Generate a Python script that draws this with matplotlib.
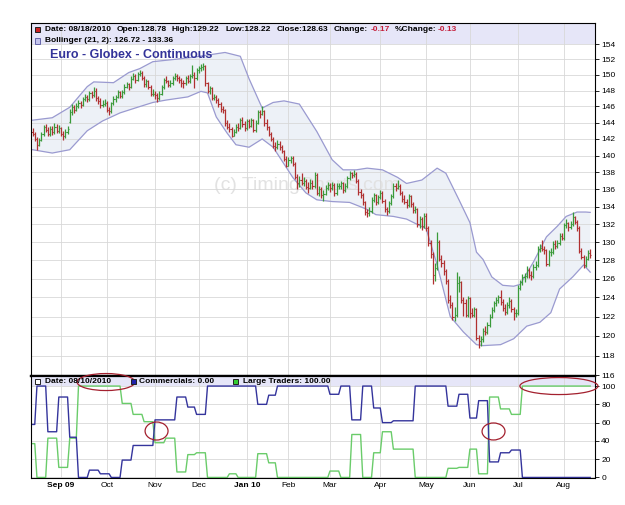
import numpy as np
import pandas as pd
import matplotlib
import matplotlib.pyplot as plt
from matplotlib.patches import Ellipse, Rectangle
from matplotlib.ticker import NullLocator

matplotlib.use("Agg")

# ---- data -------------------------------------------------------------
holidays = ["2009-09-07", "2009-11-26", "2009-12-25", "2010-01-01", "2010-01-18",
            "2010-02-15", "2010-04-02", "2010-05-31", "2010-07-05"]
dates = pd.bdate_range("2009-08-13", "2010-08-18")
dates = dates[~dates.isin(pd.to_datetime(holidays))]

opens = [
    142.9, 142.6, 142.0, 141.3, 141.9, 142.6, 143.4, 143.1, 142.6, 143.2, 142.8, 143.5, 143.0,
    143.3, 142.6, 142.3, 142.9, 144.1, 145.3, 145.9, 145.6, 146.0, 146.4, 146.2, 146.9, 147.2,
    146.9, 147.7, 147.4, 148.0, 147.0, 146.7, 146.2, 146.3,
    146.4, 145.6, 145.4, 146.4, 146.9, 147.2, 147.8, 147.3, 147.8, 148.5, 148.8, 148.5, 149.5,
    149.9, 149.4, 150.1, 150.3, 149.6, 148.8, 149.2, 148.5, 147.6,
    147.6, 147.4, 147.0, 147.6, 148.4, 149.3, 149.2, 148.7, 148.9, 149.6, 149.8, 149.6, 149.4,
    149.0, 148.9, 149.6, 149.2, 149.8, 150.0, 149.6,
    150.6, 150.9, 151.0, 151.1, 148.9, 148.0, 148.3, 147.1, 147.2, 146.8, 146.3, 145.7, 145.5,
    143.9, 143.5, 143.2, 142.4, 142.9, 143.5, 143.3, 144.3, 143.8,
    143.3, 144.2, 143.6, 144.3, 143.1, 144.0, 145.3, 145.1, 145.4, 143.9, 143.4, 142.6, 142.0,
    141.2, 141.0, 141.4, 141.0, 140.5, 139.6,
    138.8, 139.5, 139.7, 139.0, 137.5, 136.7, 137.1, 136.8, 137.0, 136.3, 136.2, 136.8, 136.4,
    137.7, 135.6, 136.1, 135.4, 135.5, 136.2,
    136.5, 136.2, 136.5, 135.6, 136.4, 136.4, 136.7, 135.9, 136.4, 137.3, 137.9, 137.7, 137.8,
    137.0, 135.7, 135.3, 134.5, 133.4, 133.3, 133.5, 134.8, 135.3, 134.5,
    135.1, 135.6, 134.7, 133.7, 133.5, 134.4, 135.2, 136.4, 136.2, 136.4, 135.6, 134.9, 134.6,
    134.2, 135.2, 134.3, 133.6, 133.7, 132.0, 132.6, 131.8,
    133.0, 131.6, 129.9, 128.7, 126.4, 127.2, 130.0, 128.2, 127.7, 126.8, 125.8, 123.7, 123.2,
    121.9, 122.2, 125.5, 125.6, 123.7, 123.4, 122.2,
    123.9, 122.4, 122.2, 122.8, 119.8, 119.5, 119.7, 120.5, 120.4, 121.1, 122.0, 122.7, 123.4,
    123.7, 124.0, 123.5, 122.9, 122.5, 123.2, 123.6, 122.8, 122.4,
    122.4, 125.0, 125.6, 126.2, 126.3, 127.0, 126.4, 126.3, 127.3, 127.5, 129.3, 129.4, 129.3,
    129.1, 127.6, 128.9, 128.9, 129.8, 129.6, 129.9, 130.7,
    130.5, 131.9, 132.1, 131.7, 132.0, 132.8, 132.3, 131.6, 129.0, 128.4, 127.5, 128.2, 128.78]

highs = [
    143.3, 142.9, 142.2, 142.1, 142.9, 143.7, 143.8, 143.5, 143.6, 143.6, 143.9, 143.8, 143.7,
    143.5, 143.0, 143.2, 143.6, 145.7, 146.3, 146.2, 146.4, 146.8, 146.7, 147.2, 147.6, 147.5,
    148.0, 148.0, 148.5, 148.3, 147.3, 147.0, 146.8, 146.9,
    146.7, 145.9, 146.6, 147.3, 147.5, 148.1, 148.0, 148.1, 148.8, 149.1, 149.0, 149.8, 150.2,
    150.1, 150.4, 150.6, 150.5, 149.8, 149.5, 149.4, 148.7, 148.2,
    148.0, 147.7, 147.9, 148.7, 149.6, 149.8, 149.4, 149.3, 149.9, 150.2, 150.1, 149.9, 149.6,
    149.4, 149.9, 150.0, 150.1, 151.3, 150.4, 150.9,
    151.2, 151.4, 151.5, 151.3, 149.1, 148.6, 148.5, 147.6, 147.4, 147.1, 146.5, 146.1, 145.7,
    144.3, 143.9, 143.4, 143.2, 143.8, 143.9, 144.6, 144.7, 144.2,
    144.5, 144.5, 144.6, 144.5, 144.3, 145.6, 145.6, 146.1, 145.6, 144.4, 143.6, 142.9, 142.2,
    141.6, 141.9, 141.7, 141.3, 140.7, 139.9,
    139.8, 140.0, 139.9, 139.2, 137.8, 137.6, 137.9, 137.5, 137.2, 136.9, 137.2, 137.1, 138.0,
    137.9, 136.4, 136.3, 135.9, 136.5, 136.9,
    136.7, 136.9, 136.7, 136.7, 136.8, 137.0, 136.9, 136.7, 137.6, 138.2, 138.1, 138.3, 138.0,
    137.2, 136.0, 135.6, 134.7, 133.8, 134.0, 135.1, 135.6, 135.5, 135.4,
    135.9, 135.8, 134.9, 134.0, 134.7, 135.5, 136.7, 136.8, 137.1, 136.6, 135.8, 135.3, 134.9,
    135.5, 135.4, 134.5, 134.1, 133.9, 132.9, 132.8, 133.3,
    133.3, 131.8, 130.2, 128.9, 127.7, 131.1, 130.3, 128.6, 128.0, 127.1, 126.0, 124.3, 123.5,
    123.0, 126.7, 126.3, 125.8, 124.1, 123.8, 124.2,
    124.1, 122.9, 123.0, 122.9, 120.1, 120.0, 120.8, 121.0, 121.4, 122.3, 123.0, 123.6, 124.0,
    124.3, 124.8, 123.8, 123.3, 123.5, 124.1, 123.8, 123.0, 122.8,
    125.3, 125.9, 126.5, 126.6, 127.4, 127.2, 126.8, 127.6, 127.9, 129.6, 129.8, 130.3, 129.6,
    129.3, 129.1, 129.4, 130.1, 130.2, 130.3, 131.0, 131.0,
    132.2, 132.6, 132.3, 132.4, 133.4, 133.0, 132.5, 131.8, 129.4, 128.6, 128.5, 129.1, 129.22]

lows = [
    142.3, 141.8, 140.7, 141.1, 141.7, 142.4, 142.8, 142.3, 142.4, 142.5, 142.6, 142.7, 142.7,
    142.3, 141.9, 142.1, 142.6, 143.9, 145.0, 145.2, 145.4, 145.8, 145.8, 146.0, 146.7, 146.5,
    146.7, 147.0, 147.2, 146.7, 146.3, 145.8, 145.9, 146.0,
    145.3, 145.0, 145.2, 146.2, 146.6, 147.0, 147.0, 147.1, 147.6, 148.3, 148.1, 148.3, 149.3,
    149.0, 149.2, 149.8, 149.3, 148.4, 148.5, 148.2, 147.3, 147.3,
    146.9, 146.5, 146.8, 147.4, 148.2, 148.9, 148.4, 148.4, 148.7, 149.3, 149.2, 149.0, 148.5,
    148.3, 148.7, 148.9, 149.0, 149.6, 148.3, 149.3,
    150.3, 150.5, 150.6, 148.6, 147.7, 147.6, 146.8, 146.8, 146.4, 145.9, 145.3, 145.2, 143.6,
    143.2, 142.9, 142.2, 142.3, 142.7, 143.0, 143.2, 143.5, 143.0,
    143.1, 143.3, 143.4, 142.8, 142.9, 143.8, 144.6, 144.9, 143.6, 143.1, 142.3, 141.7, 140.9,
    140.6, 140.8, 140.7, 140.3, 139.3, 138.6,
    138.7, 139.1, 138.7, 137.2, 136.1, 136.3, 136.5, 136.4, 136.0, 135.6, 136.0, 136.1, 136.2,
    135.3, 135.2, 135.0, 134.7, 135.3, 135.9,
    135.7, 135.9, 135.2, 135.4, 136.0, 136.1, 135.6, 135.7, 136.2, 137.1, 137.3, 137.4, 136.7,
    135.4, 135.0, 134.2, 133.1, 132.8, 133.0, 133.3, 134.6, 134.2, 134.3,
    134.9, 134.4, 133.4, 133.1, 133.3, 134.2, 135.0, 135.8, 136.0, 135.3, 134.6, 134.3, 133.9,
    134.0, 134.0, 133.3, 133.3, 131.7, 131.6, 131.4, 131.6,
    131.3, 129.6, 128.3, 125.4, 125.8, 127.0, 127.9, 127.3, 126.4, 125.4, 123.4, 122.9, 121.6,
    121.5, 122.0, 124.6, 123.4, 122.1, 121.9, 122.0,
    121.8, 121.9, 121.9, 119.6, 118.8, 119.0, 119.4, 120.1, 120.2, 120.9, 121.8, 122.5, 123.1,
    123.4, 123.2, 122.6, 122.2, 122.3, 122.9, 122.5, 121.6, 121.9,
    122.2, 124.8, 125.3, 125.6, 126.1, 126.1, 125.9, 126.1, 127.0, 127.3, 128.9, 129.0, 128.7,
    127.4, 127.4, 128.5, 128.7, 129.3, 129.4, 129.7, 130.2,
    130.3, 131.6, 131.3, 131.5, 131.8, 132.0, 131.3, 128.8, 128.2, 127.2, 127.3, 128.0, 128.22]

closes = [
    142.6, 142.0, 141.3, 141.9, 142.6, 143.4, 143.1, 142.6, 143.2, 142.8, 143.5, 143.0, 143.3,
    142.6, 142.3, 142.9, 143.2, 145.3, 145.9, 145.6, 146.0, 146.4, 146.2, 146.9, 147.2, 146.9,
    147.7, 147.4, 148.0, 147.0, 146.7, 146.2, 146.3, 146.4,
    145.6, 145.4, 146.4, 146.9, 147.2, 147.8, 147.3, 147.8, 148.5, 148.8, 148.5, 149.5, 149.9,
    149.4, 150.1, 150.3, 149.6, 148.8, 149.2, 148.5, 147.6, 147.6,
    147.4, 147.0, 147.6, 148.4, 149.3, 149.2, 148.7, 148.9, 149.6, 149.8, 149.6, 149.4, 149.0,
    148.9, 149.6, 149.2, 149.8, 150.0, 149.6, 150.6,
    150.9, 151.0, 151.1, 148.9, 148.0, 148.3, 147.1, 147.2, 146.8, 146.3, 145.7, 145.5, 143.9,
    143.5, 143.2, 142.4, 142.9, 143.5, 143.3, 144.3, 143.8, 143.3,
    144.2, 143.6, 144.3, 143.1, 144.0, 145.3, 145.1, 145.4, 143.9, 143.4, 142.6, 142.0, 141.2,
    141.0, 141.4, 141.0, 140.5, 139.6, 138.8,
    139.5, 139.7, 139.0, 137.5, 136.7, 137.1, 136.8, 137.0, 136.3, 136.2, 136.8, 136.4, 137.7,
    135.6, 136.1, 135.4, 135.5, 136.2, 136.5,
    136.2, 136.5, 135.6, 136.4, 136.4, 136.7, 135.9, 136.4, 137.3, 137.9, 137.7, 137.8, 137.0,
    135.7, 135.3, 134.5, 133.4, 133.3, 133.5, 134.8, 135.3, 134.5, 135.1,
    135.6, 134.7, 133.7, 133.5, 134.4, 135.2, 136.4, 136.2, 136.4, 135.6, 134.9, 134.6, 134.2,
    135.2, 134.3, 133.6, 133.7, 132.0, 132.6, 131.8, 133.0,
    131.6, 129.9, 128.7, 126.4, 127.2, 130.0, 128.2, 127.7, 126.8, 125.8, 123.7, 123.2, 121.9,
    122.2, 125.5, 125.6, 123.7, 123.4, 122.2, 123.9,
    122.4, 122.2, 122.8, 119.8, 119.5, 119.7, 120.5, 120.4, 121.1, 122.0, 122.7, 123.4, 123.7,
    124.0, 123.5, 122.9, 122.5, 123.2, 123.6, 122.8, 122.4, 122.4,
    125.0, 125.6, 126.2, 126.3, 127.0, 126.4, 126.3, 127.3, 127.5, 129.3, 129.4, 129.3, 129.1,
    127.6, 128.9, 128.9, 129.8, 129.6, 129.9, 130.7, 130.5,
    131.9, 132.1, 131.7, 132.0, 132.8, 132.3, 131.6, 129.0, 128.4, 127.5, 128.2, 128.8, 128.63]

# Bollinger (21, 2) envelope (bar number, price)
upper_bar = [0, 9, 17, 25, 28, 37, 44, 49, 55, 65, 74, 88, 95, 99, 105, 110, 115, 122, 130,
             137, 142, 148, 153, 160, 167, 171, 178, 185, 189, 195, 200, 203, 206, 210, 215,
             220, 223, 229, 235, 240, 244, 249, 253, 255]
upper_val = [144.3, 144.6, 145.9, 148.5, 149.1, 149.0, 150.3, 150.8, 151.7, 152.0, 152.3,
             152.9, 152.4, 149.5, 145.8, 146.5, 146.7, 146.3, 142.9, 139.5, 138.3, 138.3,
             138.5, 138.3, 137.4, 136.7, 137.1, 138.5, 137.9, 134.8, 132.2, 128.9, 128.1,
             126.2, 125.3, 125.2, 125.4, 127.8, 130.6, 131.8, 132.9, 133.4, 133.4, 133.36]
lower_bar = [0, 9, 17, 25, 32, 40, 48, 55, 61, 71, 77, 80, 84, 89, 93, 99, 105, 110, 119,
             125, 130, 137, 145, 153, 157, 165, 171, 180, 185, 191, 197, 203, 206, 214, 220,
             226, 232, 237, 241, 247, 252, 255]
lower_val = [140.7, 140.3, 140.7, 143.0, 144.2, 145.2, 145.9, 146.5, 146.8, 147.2, 147.9,
             147.7, 144.7, 142.7, 141.3, 141.0, 142.0, 141.0, 137.4, 135.6, 134.8, 134.6,
             134.5, 133.7, 133.1, 132.9, 132.6, 131.5, 127.5, 122.0, 120.4, 119.1, 119.0,
             119.1, 119.7, 121.0, 121.4, 122.4, 124.9, 126.2, 127.5, 126.72]

# weekly COT index, one value per week starting Mon 2009-08-10
first_week = pd.Timestamp("2009-08-10")
commercials = [58, 100, 50, 88, 44, 0, 8, 4, 0, 19, 35, 35, 63, 63, 88, 77, 69, 100, 100,
               100, 100, 100, 80, 90, 100, 100, 100, 100, 100, 91, 100, 63, 100, 76, 60, 62,
               62, 100, 100, 100, 78, 91, 65, 84, 17, 27, 30, 0, 0, 0, 0, 0, 0, 0]
large_traders = [37, 0, 43, 11, 43, 100, 100, 100, 100, 81, 69, 61, 38, 43, 6, 25, 27, 0, 0,
                 4, 0, 0, 26, 16, 0, 0, 0, 0, 0, 7, 0, 47, 0, 27, 50, 31, 31, 0, 0, 0, 10,
                 11, 31, 4, 88, 75, 69, 100, 100, 100, 100, 100, 100, 100]

month_labels = ["Sep 09", "Oct", "Nov", "Dec", "Jan 10", "Feb", "Mar", "Apr", "May", "Jun",
                "Jul", "Aug"]
price_ticks = list(range(116, 155, 2))
cot_ticks = [0, 20, 40, 60, 80, 100]

assert len(opens) == len(highs) == len(lows) == len(closes) == len(dates)

# ---- figure -----------------------------------------------------------
W, H = 625, 505
plt.rcParams['font.family'] = ['Liberation Sans', 'DejaVu Sans']
fig = plt.figure(figsize=(W / 100, H / 100), dpi=100)


def fx(px):
    return px / W


def fy(py):
    return 1 - py / H


ax1 = fig.add_axes([fx(31), fy(376), 564 / W, 353 / H])
ax2 = fig.add_axes([fx(31), fy(478), 564 / W, 102 / H], sharex=ax1)

x = np.arange(len(dates))
o, hi, lo, c = map(np.array, (opens, highs, lows, closes))
months = dates.to_period("M")
month_pos = x[1:][months[1:] != months[:-1]]

lavender = "#e6e6f8"
grid_c = "#d8d8d8"

# price panel
ax1.set_yscale("log")
ax1.set_ylim(115.95, 156.8)
ax1.set_xlim(-0.72, 257.2)
ax1.axhspan(154, 156.8, color=lavender, zorder=0.1, lw=0)
ax1.fill(np.r_[upper_bar, lower_bar[::-1]], np.r_[upper_val, lower_val[::-1]],
         color="#edf1f7", lw=0, zorder=0.2)
ax1.plot(upper_bar, upper_val, color="#9a9ad0", lw=0.9, zorder=1)
ax1.plot(lower_bar, lower_val, color="#9a9ad0", lw=0.9, zorder=1)

bar_col = np.where(c >= o, "#3a9a3a", "#b03030")
ax1.vlines(x, lo, hi, colors=bar_col, lw=0.9, zorder=2)
ax1.hlines(o, x - 0.5, x, colors=bar_col, lw=0.8, zorder=2)
ax1.hlines(c, x, x + 0.5, colors=bar_col, lw=0.8, zorder=2)

ax1.set_yticks(price_ticks)
ax1.set_yticklabels([str(v) for v in price_ticks])
ax1.yaxis.set_minor_locator(NullLocator())
ax1.yaxis.tick_right()
ax1.tick_params(axis="y", labelsize=6, length=3, width=0.6, pad=1.5)
ax1.set_xticks(month_pos)
ax1.tick_params(axis="x", length=0, labelbottom=False)
ax1.grid(True, color=grid_c, lw=0.6)
ax1.set_axisbelow(True)

ax1.text(0.489, 0.541, "(c) TimingCharts.com", transform=ax1.transAxes, ha="center",
         va="center", fontsize=14, color="#e2e2e2", zorder=0.4)
ax1.text(0.0337, 0.909, "Euro - Globex - Continuous", transform=ax1.transAxes, ha="left",
         va="center", fontsize=9, fontweight="bold", color="#333399", zorder=5)

# COT panel
week_no = np.asarray((dates - first_week).days // 7)
ax2.set_ylim(-0.6, 111)
ax2.axhspan(100, 111, color=lavender, zorder=0.1, lw=0)
ax2.plot(x, np.array(large_traders)[week_no], color="#6acc6a", lw=1.0, zorder=2)
ax2.plot(x, np.array(commercials)[week_no], color="#34349c", lw=1.0, zorder=2)
ax2.set_yticks(cot_ticks)
ax2.set_yticklabels([str(v) for v in cot_ticks])
ax2.yaxis.tick_right()
ax2.tick_params(axis="y", labelsize=6, length=3, width=0.6, pad=1.5)
ax2.set_xticks(month_pos)
ax2.set_xticklabels(month_labels)
ax2.tick_params(axis="x", labelsize=6, length=0, pad=3)
for lab in ax2.get_xticklabels():
    if " " in lab.get_text():
        lab.set_fontweight("bold")
ax2.grid(True, color=grid_c, lw=0.6)
ax2.set_axisbelow(True)

for ax in (ax1, ax2):
    for sp in ax.spines.values():
        sp.set_linewidth(0.8)
ax1.spines["bottom"].set_linewidth(1.6)
ax2.spines["top"].set_linewidth(1.6)

# hand-drawn marks
ell = dict(fill=False, ec="#a3202e", lw=0.9, clip_on=False, zorder=6)
ax2.add_patch(Ellipse((33.6, 104.4), 26.5, 18.6, **ell))
ax2.add_patch(Ellipse((56.7, 50.8), 10.5, 19.7, **ell))
ax2.add_patch(Ellipse((210.8, 50.3), 10.5, 18.6, **ell))
ax2.add_patch(Ellipse((240.7, 100.0), 35.7, 18.6, **ell))

# legend rows
txt = dict(fontsize=6, fontweight="bold", va="center", ha="left")


def square(px, py, fc, ec="#222222"):
    fig.add_artist(Rectangle((fx(px), fy(py + 5)), 5 / W, 5 / H, transform=fig.transFigure,
                             fc=fc, ec=ec, lw=0.7))


square(35, 27, "#cc2222")
for px, s, col in [(45, "Date: 08/18/2010", "k"), (116.7, "Open:128.78", "k"),
                   (171.7, "High:129.22", "k"), (225.7, "Low:128.22", "k"),
                   (276.7, "Close:128.63", "k"), (333.3, "Change:", "k"),
                   (371, "-0.17", "#c41e3a"), (394.3, "%Change:", "k"),
                   (437.7, "-0.13", "#c41e3a")]:
    fig.text(fx(px), fy(29.5), s, color=col, **txt)

square(35, 38.5, "#c4c4ec", "#6666aa")
fig.text(fx(45), fy(41), "Bollinger (21, 2): 126.72 - 133.36", color="k", **txt)

square(35, 379, "white")
fig.text(fx(45), fy(381.5), "Date: 08/10/2010", color="k", **txt)
square(131, 379, "#2222aa")
fig.text(fx(139), fy(381.5), "Commercials: 0.00", color="k", **txt)
square(233, 379, "#33cc33")
fig.text(fx(243), fy(381.5), "Large Traders: 100.00", color="k", **txt)

fig.savefig("out.png", dpi=100)
